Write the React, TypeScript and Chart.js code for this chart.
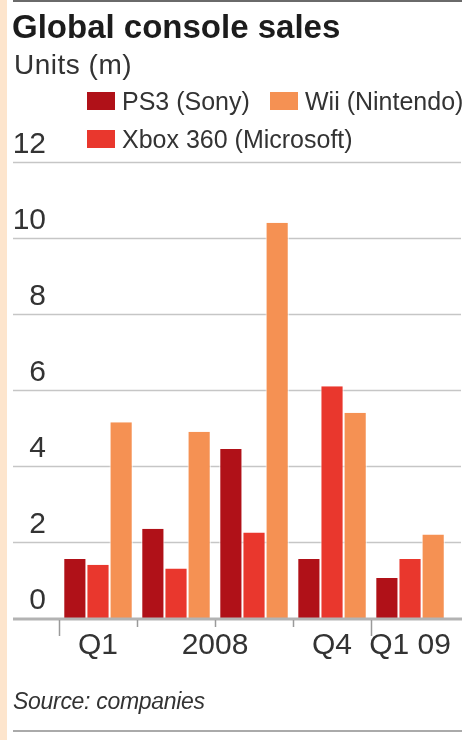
import React, { useEffect, useRef } from "react";
import { Chart, registerables } from "chart.js";

Chart.register(...registerables);

// ---- data ----
const categories = ["Q1 08", "Q2 08", "Q3 08", "Q4 08", "Q1 09"];
const tickLabels = ["Q1", "", "", "Q4", "Q1 09"];
const yearLabel = "2008";
const ps3 = [1.55, 2.35, 4.45, 1.55, 1.05];
const xbox = [1.4, 1.3, 2.25, 6.1, 1.55];
const wii = [5.15, 4.9, 10.4, 5.4, 2.2];
const yTicks = [0, 2, 4, 6, 8, 10, 12];

const seriesNames = ["PS3 (Sony)", "Xbox 360 (Microsoft)", "Wii (Nintendo)"];
const colors = ["#b01118", "#e9372d", "#f59153"];

const FONT = "'Liberation Sans', Arial, sans-serif";
const TEXT = "#333333";

const decor = {
  id: "ftDecor",
  beforeDatasetsDraw(chart: any) {
    const ctx = chart.ctx;
    const y = chart.scales.y;
    ctx.save();
    ctx.strokeStyle = "#c6c6c6";
    ctx.lineWidth = 1.6;
    y.ticks.forEach((t: any) => {
      if (t.value === 0) return;
      const py = Math.round(y.getPixelForValue(t.value)) + 0.5;
      ctx.beginPath();
      ctx.moveTo(13, py);
      ctx.lineTo(461, py);
      ctx.stroke();
    });
    ctx.restore();
  },
  afterDatasetsDraw(chart: any) {
    const ctx = chart.ctx;
    const x = chart.scales.x;
    const y = chart.scales.y;
    const base = y.getPixelForValue(0);
    ctx.save();
    // baseline
    ctx.strokeStyle = "#b3b3b3";
    ctx.lineWidth = 3;
    ctx.beginPath();
    ctx.moveTo(13, base + 1);
    ctx.lineTo(462, base + 1);
    ctx.stroke();
    // category boundary ticks
    const half = (x.getPixelForValue(1) - x.getPixelForValue(0)) / 2;
    ctx.strokeStyle = "#9a9a9a";
    ctx.lineWidth = 1.5;
    for (let i = 0; i < categories.length; i++) {
      const px = Math.round(x.getPixelForValue(i) - half) + 0.5;
      const long = i === 0 || categories[i].endsWith("09") && !categories[i - 1].endsWith("09");
      ctx.beginPath();
      ctx.moveTo(px, base + 2);
      ctx.lineTo(px, base + (long ? 18 : 9));
      ctx.stroke();
    }
    // year label between Q2 and Q3
    ctx.fillStyle = TEXT;
    ctx.font = `30px ${FONT}`;
    ctx.textAlign = "center";
    ctx.textBaseline = "middle";
    const mid = (x.getPixelForValue(1) + x.getPixelForValue(2)) / 2;
    ctx.fillText(yearLabel, mid, base + 28);
    ctx.restore();
  },
};

export default function App() {
  const ref = useRef<HTMLCanvasElement | null>(null);

  useEffect(() => {
    document.body.style.margin = "0";
    const data = [ps3, xbox, wii];
    const chart = new Chart(ref.current as HTMLCanvasElement, {
      type: "bar",
      data: {
        labels: categories,
        datasets: data.map((d, i) => ({
          label: seriesNames[i],
          data: d,
          backgroundColor: colors[i],
          borderColor: "#ffffff",
          borderWidth: { left: 1, right: 1, top: 0, bottom: 0 },
          borderSkipped: false,
          categoryPercentage: 0.89,
          barPercentage: 1,
        })),
      },
      options: {
        responsive: false,
        animation: false,
        devicePixelRatio: 1,
        layout: { padding: { left: 13, right: 11, top: 162, bottom: 0 } },
        plugins: { legend: { display: false }, tooltip: { enabled: false } },
        scales: {
          x: {
            type: "category",
            offset: true,
            grid: { display: false, drawTicks: false },
            border: { display: false },
            ticks: {
              autoSkip: false,
              maxRotation: 0,
              padding: 10,
              color: TEXT,
              font: { family: FONT, size: 30 },
              callback: (_v: any, i: number) => tickLabels[i],
            },
            afterFit: (s: any) => {
              s.height = 122;
            },
          },
          y: {
            min: 0,
            max: 12,
            afterBuildTicks: (s: any) => {
              s.ticks = yTicks.map((v) => ({ value: v }));
            },
            grid: { display: false, drawTicks: false },
            border: { display: false },
            ticks: {
              padding: 13,
              labelOffset: -17,
              crossAlign: "near",
              color: TEXT,
              font: { family: FONT, size: 30 },
            },
            afterFit: (s: any) => {
              s.width = 46;
            },
          },
        },
      },
      plugins: [decor],
    });
    return () => chart.destroy();
  }, []);

  const abs = (o: any) => ({ position: "absolute" as const, ...o });
  const legendItem = (i: number, left: number, top: number) => (
    <div style={abs({ left, top, height: 25, display: "flex", alignItems: "flex-start" })}>
      <div style={{ width: 28, height: 18, marginTop: 3, background: colors[i] }} />
      <span style={{ marginLeft: 7, font: `25px/25px ${FONT}`, color: TEXT, whiteSpace: "nowrap" }}>
        {seriesNames[i]}
      </span>
    </div>
  );

  return (
    <div style={{ position: "relative", width: 462, height: 740, background: "#ffffff", overflow: "hidden" }}>
      <canvas ref={ref} width={462} height={740} style={abs({ left: 0, top: 0, width: 462, height: 740 })} />
      <div style={abs({ left: 0, top: 0, width: 7, height: 740, background: "#fde5cd" })} />
      <div style={abs({ left: 13, top: 0, width: 449, height: 2, background: "#6a6a6a" })} />
      <div style={abs({ left: 12, top: 10, font: `bold 33px/33px ${FONT}`, color: "#1c1c1c", whiteSpace: "nowrap" })}>
        Global console sales
      </div>
      <div style={abs({ left: 14, top: 51, font: `28px/28px ${FONT}`, letterSpacing: 0.5, color: TEXT, whiteSpace: "nowrap" })}>
        Units (m)
      </div>
      {legendItem(0, 87, 89)}
      {legendItem(2, 270, 89)}
      {legendItem(1, 87, 127)}
      <div style={abs({ left: 13, top: 690, font: `italic 23px/23px ${FONT}`, letterSpacing: -0.3, color: TEXT, whiteSpace: "nowrap" })}>
        Source: companies
      </div>
      <div style={abs({ left: 13, top: 730, width: 449, height: 2, background: "#aaaaaa" })} />
    </div>
  );
}
